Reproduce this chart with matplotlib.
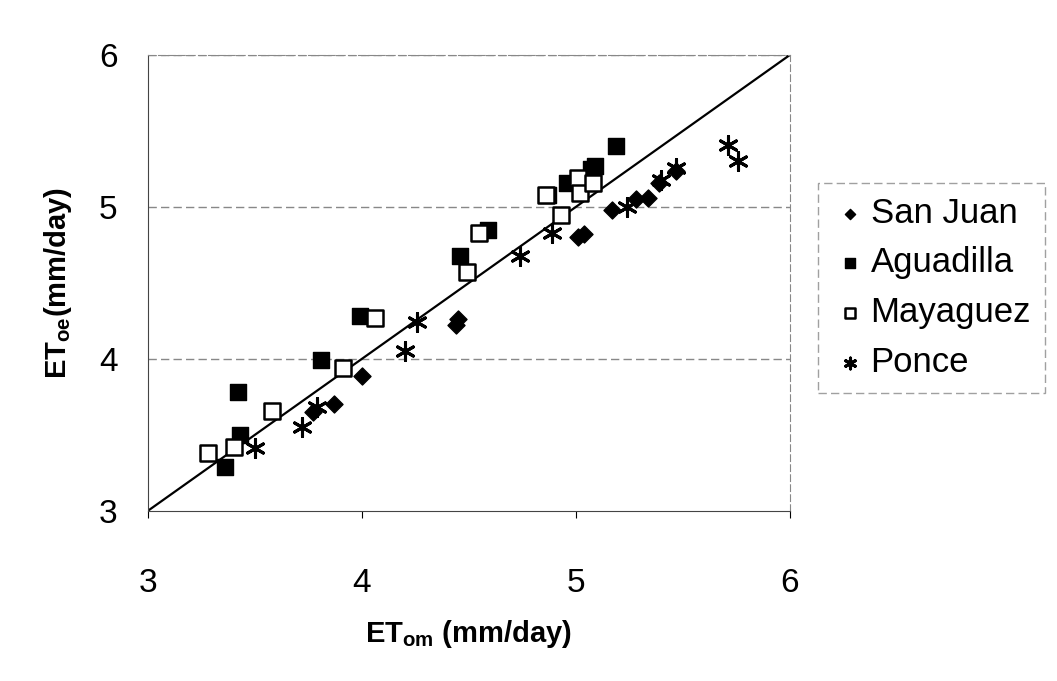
import numpy as np
import matplotlib.pyplot as plt

plt.rcParams['font.family'] = ['Liberation Sans', 'DejaVu Sans']
plt.rcParams['mathtext.default'] = 'regular'

# measured ET (x) vs estimated ET (y), mm/day
sanjuan_x = [3.77, 3.87, 4.00, 4.44, 4.45, 5.01, 5.04, 5.17, 5.28, 5.34, 5.39, 5.47]
sanjuan_y = [3.65, 3.70, 3.89, 4.22, 4.26, 4.80, 4.82, 4.98, 5.05, 5.06, 5.16, 5.24]

aguad_x = [3.36, 3.42, 3.43, 3.81, 3.99, 4.46, 4.59, 4.87, 4.96, 5.07, 5.09, 5.19]
aguad_y = [3.29, 3.78, 3.50, 3.99, 4.28, 4.68, 4.85, 5.08, 5.16, 5.25, 5.27, 5.40]

maya_x = [3.28, 3.40, 3.58, 3.91, 4.06, 4.49, 4.55, 4.86, 4.93, 5.01, 5.02, 5.08]
maya_y = [3.38, 3.42, 3.66, 3.94, 4.27, 4.57, 4.83, 5.08, 4.95, 5.19, 5.09, 5.16]

ponce_x = [3.50, 3.72, 3.79, 4.20, 4.26, 4.74, 4.89, 5.24, 5.40, 5.47, 5.71, 5.76]
ponce_y = [3.41, 3.55, 3.68, 4.05, 4.24, 4.68, 4.83, 5.00, 5.18, 5.26, 5.41, 5.30]

fig = plt.figure(figsize=(10.57, 6.81), dpi=100)
ax = fig.add_axes([0.140, 0.250, 0.607, 0.669])

ax.plot([3, 6], [3, 6], color='black', lw=1.6, zorder=2)

ax.scatter(sanjuan_x, sanjuan_y, marker='D', s=75, c='black', label='San Juan', zorder=3)
ax.scatter(aguad_x, aguad_y, marker='s', s=125, c='black', label='Aguadilla', zorder=3)
ax.scatter(maya_x, maya_y, marker='s', s=125, facecolors='white', edgecolors='black',
           linewidths=1.8, label='Mayaguez', zorder=4)
ax.scatter(ponce_x, ponce_y, marker=(6, 2, 0), s=170, c='black', linewidths=2.2,
           label='Ponce', zorder=5)

ax.set_xlim(3, 6)
ax.set_ylim(3, 6)
ax.set_xticks([3, 4, 5, 6])
ax.set_yticks([3, 4, 5, 6])
ax.tick_params(axis='x', labelsize=24, pad=36, length=5, direction='out')
ax.tick_params(axis='y', labelsize=24, pad=22, length=0)

for y in [4, 5, 6]:
    ax.axhline(y, color='#888888', lw=1.0, ls=(0, (6, 3)), zorder=1)

for side in ['top', 'right']:
    ax.spines[side].set_linestyle((0, (6, 3)))
    ax.spines[side].set_color('#888888')
for side in ['left', 'bottom']:
    ax.spines[side].set_color('#444444')

ax.set_xlabel('ET$_{om}$ (mm/day)', fontsize=21, fontweight='bold', labelpad=14)
ax.set_ylabel('ET$_{oe}$(mm/day)', fontsize=21, fontweight='bold', labelpad=18)

leg = ax.legend(loc='upper left', bbox_to_anchor=(1.045, 0.72), fontsize=25,
                frameon=True, fancybox=False, markerscale=0.6, handletextpad=0.1,
                labelspacing=0.48, borderpad=0.4, handlelength=1.0, borderaxespad=0)
leg.get_frame().set_edgecolor('#888888')
leg.get_frame().set_linestyle((0, (6, 3)))
leg.get_frame().set_linewidth(1.0)

fig.savefig('out.png', dpi=100)
